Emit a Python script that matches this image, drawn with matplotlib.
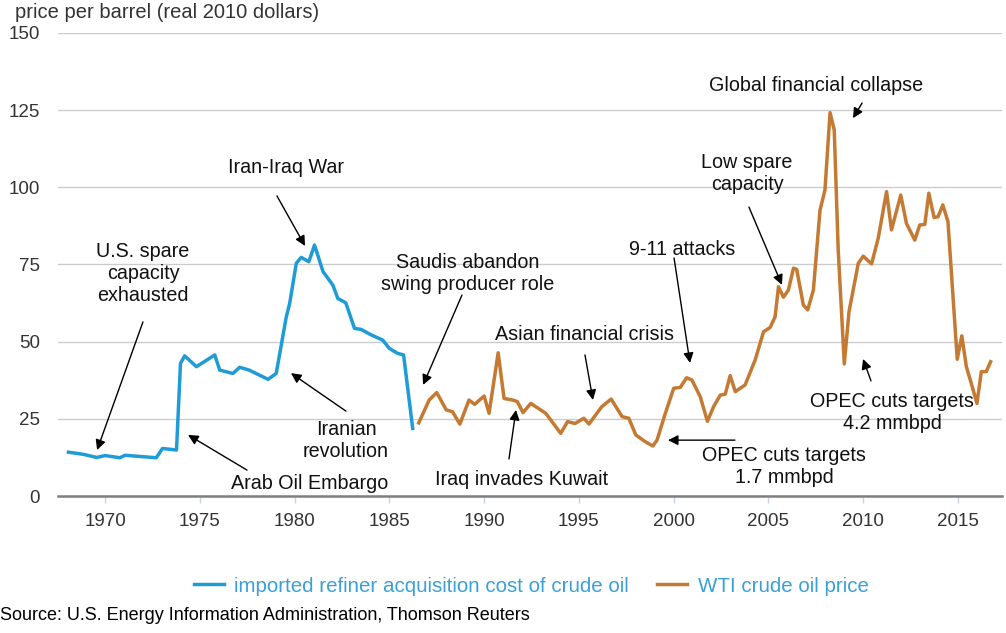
import matplotlib
matplotlib.use("Agg")
import matplotlib.pyplot as plt

plt.rcParams['font.family'] = ['Liberation Sans', 'DejaVu Sans']

# imported refiner acquisition cost (real 2010 $/bbl)
irac_years = [1968.07, 1968.86, 1969.56, 1970.0, 1970.79, 1971.05, 1972.7, 1973.03,
              1973.77, 1973.98, 1974.2, 1974.82, 1975.79, 1976.05, 1976.75, 1977.1,
              1977.6, 1978.6, 1979.03, 1979.56, 1979.74, 1980.09, 1980.35, 1980.75,
              1981.05, 1981.5, 1982.02, 1982.28, 1982.7, 1983.16, 1983.5, 1984.04,
              1984.65, 1985.0, 1985.44, 1985.75, 1986.23]
irac_price = [14.2, 13.5, 12.5, 13.1, 12.4, 13.2, 12.4, 15.4, 14.9, 43, 45.4, 41.9,
              45.7, 40.8, 39.7, 41.7, 40.8, 37.8, 39.7, 58, 62.4, 75.4, 77.3, 75.9,
              81.3, 72.7, 68.3, 64, 62.6, 54.3, 54, 52.2, 50.5, 47.8, 46.2, 45.7, 21.9]

# WTI crude oil price (real 2010 $/bbl)
wti_years = [1986.55, 1987.1, 1987.5, 1988.0, 1988.33, 1988.72, 1989.2, 1989.5, 1990.0,
             1990.26, 1990.74, 1991.05, 1991.5, 1991.75, 1992.05, 1992.46, 1993.25,
             1994.04, 1994.4, 1994.8, 1995.26, 1995.53, 1996.2, 1996.7, 1997.28,
             1997.63, 1998.0, 1998.5, 1998.9, 1999.12, 1999.56, 2000.0, 2000.35,
             2000.68, 2000.96, 2001.4, 2001.78, 2002.1, 2002.46, 2002.72, 2002.98,
             2003.25, 2003.77, 2004.3, 2004.74, 2005.09, 2005.35, 2005.53, 2005.79,
             2006.05, 2006.32, 2006.49, 2006.84, 2007.07, 2007.37, 2007.72, 2007.98,
             2008.25, 2008.47, 2008.68, 2009.0, 2009.25, 2009.74, 2010.0, 2010.44,
             2010.79, 2011.23, 2011.49, 2011.98, 2012.28, 2012.72, 2012.98, 2013.25,
             2013.46, 2013.74, 2013.95, 2014.2, 2014.47, 2014.96, 2015.2, 2015.44,
             2015.7, 2016.0, 2016.23, 2016.49, 2016.72]
wti_price = [23.7, 31.1, 33.5, 27.9, 27.3, 23.3, 31.1, 29.7, 32.4, 26.8, 46.4, 31.6,
             31.1, 30.6, 27.0, 30.0, 26.8, 20.3, 24.1, 23.5, 25.2, 23.3, 28.9, 31.4,
             25.7, 25.2, 19.8, 17.6, 16.2, 18.1, 26.8, 34.9, 35.2, 38.3, 37.6, 32.2,
             24.2, 28.9, 32.7, 33.0, 39.0, 33.8, 36.0, 44.1, 53.2, 54.6, 58.1, 67.8,
             64.4, 66.7, 73.8, 73.4, 61.9, 60.3, 66.7, 92.6, 99.1, 124.2, 118.6, 79.7,
             42.8, 59.7, 75.4, 77.7, 75.2, 83.5, 98.6, 86.2, 97.5, 88.3, 82.9, 87.8,
             88.0, 98.1, 90.2, 90.5, 94.3, 88.9, 44.3, 51.9, 41.9, 36.5, 30.0, 40.3,
             40.3, 43.5]

year_ticks = [1970, 1975, 1980, 1985, 1990, 1995, 2000, 2005, 2010, 2015]
price_ticks = [0, 25, 50, 75, 100, 125, 150]

# label, text position, arrow tail, arrow head (data coords)
events = [
    ("U.S. spare\ncapacity\nexhausted", (1972.0, 72.2), (1972.0, 56.4), (1969.58, 14.9)),
    ("Arab Oil Embargo", (1980.81, 4.2), (1977.49, 8.4), (1974.38, 19.8)),
    ("Iranian\nrevolution", (1982.71, 18.1), (1982.71, 27.5), (1979.81, 39.8)),
    ("Iran-Iraq War", (1979.55, 106.3), (1979.07, 97.2), (1980.55, 81.0)),
    ("Saudis abandon\nswing producer role", (1989.15, 72.2), (1988.83, 65.1), (1986.78, 36.0)),
    ("Asian financial crisis", (1995.27, 52.2), (1995.32, 45.7), (1995.74, 31.1)),
    ("9-11 attacks", (2000.44, 79.7), (2000.02, 77.1), (2000.86, 43.1)),
    ("Iraq invades Kuwait", (1992.0, 5.2), (1991.31, 12.0), (1991.68, 27.9)),
    ("OPEC cuts targets\n1.7 mmbpd", (2005.82, 9.7), (2003.23, 18.1), (1999.70, 18.1)),
    ("Low spare\ncapacity", (2003.87, 104.6), (2003.97, 93.6), (2005.71, 68.4)),
    ("Global financial collapse", (2007.51, 133.1), (2009.94, 127.3), (2009.46, 122.4)),
    ("OPEC cuts targets\n4.2 mmbpd", (2011.52, 26.9), (2010.41, 37.3), (2009.99, 44.4)),
]

blue = '#1f9bd7'
orange = '#c47a32'

fig = plt.figure(figsize=(10.06, 6.33), dpi=100)
ax = fig.add_axes([0.0577, 0.2164, 0.9383, 0.7315])

ax.plot(irac_years, irac_price, color=blue, lw=2.5,
        label='imported refiner acquisition cost of crude oil')
ax.plot(wti_years, wti_price, color=orange, lw=2.5, label='WTI crude oil price')

ax.set_xlim(1967.52, 2017.32)
ax.set_ylim(0, 150)
ax.set_xticks(year_ticks)
ax.set_yticks(price_ticks)
ax.grid(axis='y', color='#cccccc', lw=1)
ax.set_axisbelow(True)
for side in ['top', 'right', 'left']:
    ax.spines[side].set_visible(False)
ax.spines['bottom'].set_color('#7f7f7f')
ax.spines['bottom'].set_linewidth(1.8)
ax.tick_params(axis='x', length=5, width=1, color='#c5d5e6', pad=7,
               labelsize=13.5, labelcolor='#333333')
ax.tick_params(axis='y', length=0, pad=13, labelsize=13.5, labelcolor='#333333')

for label, txt, tail, head in events:
    ax.text(txt[0], txt[1], label, ha='center', va='center', fontsize=14.2,
            linespacing=1.2, color='#111111')
    ax.annotate('', xy=head, xytext=tail,
                arrowprops=dict(arrowstyle='-|>', color='black', lw=1,
                                mutation_scale=15, shrinkA=0, shrinkB=0))

fig.text(15 / 1006, 1 - 13 / 633, 'price per barrel (real 2010 dollars)',
         fontsize=14.5, color='#333333', va='center', ha='left')

leg = fig.legend(loc='center', bbox_to_anchor=(0.528, 0.074), ncol=2, frameon=False,
                 fontsize=14.8, handlelength=1.45, handletextpad=0.5,
                 columnspacing=1.4)
for t in leg.get_texts():
    t.set_color('#3aa0d8')

fig.text(0.0, 0.028, 'Source: U.S. Energy Information Administration, Thomson Reuters',
         fontsize=13, color='black', va='center', ha='left')

fig.savefig('out.png', dpi=100)
